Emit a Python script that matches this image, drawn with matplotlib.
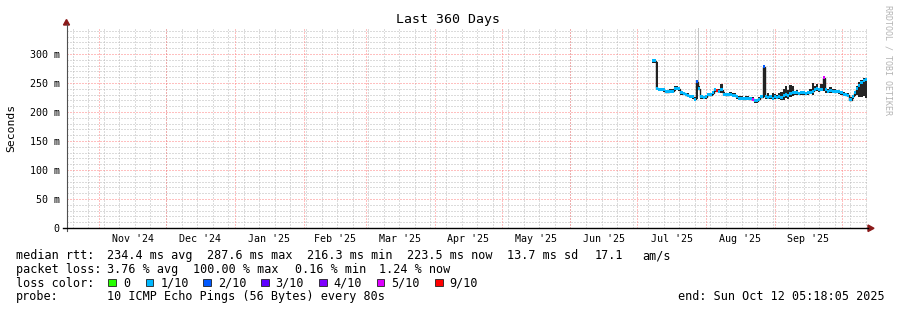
import numpy as np
import matplotlib
matplotlib.use("Agg")
import matplotlib.pyplot as plt
import matplotlib.dates as mdates
from matplotlib.patches import Rectangle, Polygon
from matplotlib.lines import Line2D
from datetime import datetime, timedelta

plt.rcParams['lines.scale_dashes'] = False
MONO = 'DejaVu Sans Mono'

# ---------------- data ----------------
graph_start = datetime(2024, 10, 17, 5, 18, 5)
graph_end = datetime(2025, 10, 12, 5, 18, 5)
data_start = datetime(2025, 7, 7, 12, 0)

median_ms = [288, 288, 241, 239, 239, 238, 235, 235, 236, 236,
             241, 241, 240, 233, 232, 230, 229, 227, 226, 222,
             252, 240, 226, 225, 226, 230, 230, 233, 238, 237,
             236, 238, 231, 230, 230, 231, 229, 229, 226, 224,
             224, 223, 224, 224, 223, 222, 219, 219, 222, 226,
             278, 226, 225, 226, 224, 227, 225, 226, 225, 228,
             231, 229, 232, 233, 233, 233, 232, 233, 233, 232,
             233, 234, 236, 239, 240, 238, 239, 259, 238, 236,
             237, 236, 235, 236, 235, 233, 231, 230, 229, 221,
             227, 233, 240, 246, 251, 255, 256]

smoke_lo_ms = [285, 284, 238, 236, 236, 235, 232, 232, 233, 233,
               236, 238, 237, 230, 229, 227, 226, 224, 223, 219,
               222, 238, 223, 222, 223, 227, 227, 230, 235, 234,
               233, 232, 228, 227, 227, 228, 226, 226, 223, 221,
               221, 220, 221, 221, 220, 219, 216, 216, 219, 224,
               226, 222, 222, 222, 221, 223, 222, 223, 221, 220,
               224, 222, 226, 228, 230, 230, 229, 230, 230, 229,
               230, 231, 229, 236, 236, 235, 236, 236, 233, 232,
               233, 232, 233, 232, 231, 230, 228, 227, 226, 219,
               223, 228, 230, 226, 225, 228, 224]

smoke_hi_ms = [290, 290, 286, 242, 242, 241, 238, 238, 239, 239,
               244, 244, 243, 236, 235, 233, 232, 230, 229, 226,
               252, 244, 229, 228, 229, 233, 233, 236, 241, 240,
               239, 249, 234, 233, 233, 234, 232, 232, 229, 227,
               227, 226, 227, 227, 226, 225, 222, 222, 225, 229,
               279, 229, 232, 229, 232, 231, 230, 232, 234, 240,
               245, 238, 246, 244, 236, 238, 235, 236, 236, 235,
               236, 240, 250, 244, 248, 242, 249, 260, 241, 240,
               243, 240, 239, 238, 237, 236, 234, 233, 232, 226,
               230, 236, 244, 252, 256, 258, 258]

loss_idx = [1] * 97
loss_idx[20] = 2
loss_idx[29] = 6
loss_idx[45] = 5
loss_idx[50] = 2
loss_idx[77] = 5

loss_labels = ['0', '1/10', '2/10', '3/10', '4/10', '5/10', '9/10']
loss_colors = ['#26ff00', '#00b8ff', '#0059ff', '#5e00ff', '#7e00ff', '#dd00ff', '#ff0000']

outlier_day = datetime(2025, 7, 28)
outlier_top_ms = 420

month_starts = [datetime(2024, 11, 1), datetime(2024, 12, 1), datetime(2025, 1, 1),
                datetime(2025, 2, 1), datetime(2025, 3, 1), datetime(2025, 4, 1),
                datetime(2025, 5, 1), datetime(2025, 6, 1), datetime(2025, 7, 1),
                datetime(2025, 8, 1), datetime(2025, 9, 1), datetime(2025, 10, 1)]
month_labels = ["Nov '24", "Dec '24", "Jan '25", "Feb '25", "Mar '25", "Apr '25",
                "May '25", "Jun '25", "Jul '25", "Aug '25", "Sep '25"]

y_ticks_ms = [0, 50, 100, 150, 200, 250, 300]
y_tick_labels = ['0', '50 m', '100 m', '150 m', '200 m', '250 m', '300 m']

# ---------------- figure ----------------
W, H = 897, 310
fig = plt.figure(figsize=(W / 100, H / 100), dpi=100)
fig.patch.set_facecolor('white')

def fx(x):
    return x / W

def fy(y):
    return 1 - y / H

ax = fig.add_axes([fx(66.5), fy(228), 800 / W, 200 / H])
ax.set_facecolor('white')
for s in ax.spines.values():
    s.set_visible(False)

t0 = mdates.date2num(graph_start)
t1 = mdates.date2num(graph_end)
ax.set_xlim(t0, t1)
ax.set_ylim(0, 344.8)

# grid (dotted lines)
GRID_C = '#b8b8b8'
MGRID_C = '#ff8080'
dots = (0, (0.72, 1.44))
gkw = dict(lw=0.72, ls=dots)
for v in range(10, 345, 10):
    if v % 50:
        ax.axhline(v, color=GRID_C, zorder=0, **gkw)
d = graph_start
d = datetime(d.year, d.month, d.day) + timedelta(days=(6 - d.weekday()) % 7)
while d < graph_end:
    ax.axvline(mdates.date2num(d), color=GRID_C, zorder=0, **gkw)
    d += timedelta(days=7)
for v in y_ticks_ms[1:]:
    ax.axhline(v, color=MGRID_C, zorder=0.5, **gkw)
for m in month_starts:
    ax.axvline(mdates.date2num(m), color=MGRID_C, zorder=0.5, **gkw)

# data
edges = [data_start + timedelta(days=i) for i in range(len(median_ms))] + [graph_end]
en = mdates.date2num(edges)
left = en[:-1]
widths = np.diff(en)
med = np.array(median_ms, float)
lo = np.array(smoke_lo_ms, float)
hi = np.array(smoke_hi_ms, float)

# outlier smoke (light)
oi = mdates.date2num(outlier_day)
ax.bar(oi + 0.3, outlier_top_ms - 252, bottom=252, width=0.45, align='edge',
       color='#c4c4c4', lw=0, zorder=1)
# smoke
ax.bar(left, hi - lo, bottom=lo, width=widths, align='edge', color='#262626', lw=0, zorder=2)
# median black line
ax.stairs(med, en, baseline=None, color='#202020', lw=1.0, zorder=3)
# coloured median band
w = 2.6
cols = [loss_colors[k] for k in loss_idx]
ax.bar(left, 2 * w, bottom=med - w, width=widths, align='edge', color=cols, lw=0, zorder=4)

# ticks
mids = [mdates.date2num(month_starts[i]) + (mdates.date2num(month_starts[i + 1]) -
        mdates.date2num(month_starts[i])) / 2 for i in range(len(month_labels))]
ax.set_xticks(mids)
ax.set_xticklabels(month_labels, fontfamily=MONO, fontsize=7.2)
ax.tick_params(axis='x', length=0, pad=4.2)
ax.set_yticks(y_ticks_ms)
ax.set_yticklabels(y_tick_labels, fontfamily=MONO, fontsize=7.2)
ax.tick_params(axis='y', length=0, pad=4.8)

# axes lines and arrows
fig.add_artist(Line2D([fx(66.5), fx(66.5)], [fy(231), fy(24)], color='#505050', lw=0.8))
fig.add_artist(Line2D([fx(63), fx(868)], [fy(228.3), fy(228.3)], color='black', lw=1.0))
fig.add_artist(Polygon([[fx(63.5), fy(25)], [fx(69.5), fy(25)], [fx(66.5), fy(19.5)]],
                       closed=True, color='#8b1a1a', transform=fig.transFigure))
fig.add_artist(Polygon([[fx(868), fy(225)], [fx(868), fy(231.5)], [fx(874), fy(228.3)]],
                       closed=True, color='#8b1a1a', transform=fig.transFigure))

# texts
fig.text(fx(447.5), fy(19.5), 'Last 360 Days', ha='center', va='center',
         fontfamily=MONO, fontsize=9.5)
fig.text(fx(11), fy(128), 'Seconds', ha='center', va='center', rotation=90,
         fontfamily=MONO, fontsize=8.2)
fig.text(fx(887.5), fy(60), 'RRDTOOL / TOBI OETIKER', ha='center', va='center',
         rotation=270, fontfamily=MONO, fontsize=6, color='#b4b4b4')

FS = 8.45
def legend_text(x, y, s):
    fig.text(fx(x), fy(y), s, ha='left', va='baseline', fontfamily=MONO, fontsize=FS)

rows = [259.3, 272.9, 286.6, 300.3]
legend_text(16, rows[0], 'median rtt:')
for x, s in [(107.3, '234.4 ms avg'), (207.3, '287.6 ms max'), (306.7, '216.3 ms min'),
             (407.0, '223.5 ms now'), (507.3, '13.7 ms sd'), (595, '17.1'), (642.7, 'am/s')]:
    legend_text(x, rows[0], s)
legend_text(16, rows[1], 'packet loss:')
for x, s in [(107.3, '3.76 % avg'), (193.3, '100.00 % max'), (295, '0.16 % min'),
             (379, '1.24 % now')]:
    legend_text(x, rows[1], s)
legend_text(16, rows[2], 'loss color:')
box_x = [108.3, 145.7, 203.3, 261, 319.3, 376.7, 435]
for bx, c, lab in zip(box_x, loss_colors, loss_labels):
    fig.add_artist(Rectangle((fx(bx), fy(286)), 7.5 / W, 7.5 / H, transform=fig.transFigure,
                             facecolor=c, edgecolor='#202020', lw=0.6))
    legend_text(bx + 14.5, rows[2], lab)
legend_text(16, rows[3], 'probe:')
legend_text(107.3, rows[3], '10 ICMP Echo Pings (56 Bytes) every 80s')
legend_text(678.3, rows[3], 'end: Sun Oct 12 05:18:05 2025')

fig.savefig('out.png', dpi=100, facecolor='white')
